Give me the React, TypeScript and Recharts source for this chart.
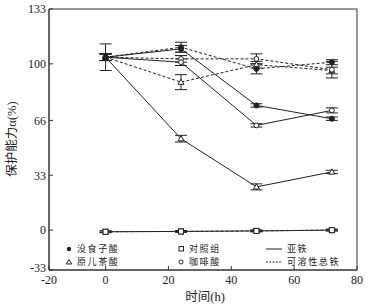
import React from 'react';
import { LineChart, Line, XAxis, YAxis, ErrorBar, ReferenceArea } from 'recharts';

// ---- data ----
const times = [0, 24, 48, 72];

// 亚铁 (solid)
const gallicFe2 = [104, 109, 75, 67];
const gallicFe2Err = [2, 2, 1, 1];
const protoFe2 = [104, 55, 26, 35];
const protoFe2Err = [2, 2, 1.8, 1];
const controlFe2 = [-1, -0.8, -0.5, 0];
const controlFe2Err = [0.5, 0.5, 0.5, 0.5];
const caffeicFe2 = [104, 101, 63, 72];
const caffeicFe2Err = [2, 2, 1, 1.5];

// 可溶性总铁 (dashed)
const gallicTot = [104, 110, 97, 101];
const gallicTotErr = [8, 3, 3, 1.5];
const protoTot = [104, 89, 99.5, 96];
const protoTotErr = [2, 4.5, 2, 2];
const caffeicTot = [104, 103, 103, 96.5];
const caffeicTotErr = [2, 2, 3, 5];
const controlTot = [-1, -0.8, -0.5, 0];
const controlTotErr = [0.5, 0.5, 0.5, 0.5];

const xTickValues = [-18, 0, 20, 40, 60, 80];
const xTickLabels = ['-20', '0', '20', '40', '60', '80'];
const yTickValues = [-24, 0, 33, 66, 100, 133];
const yTickLabels = ['-33', '0', '33', '66', '100', '133'];

const rows = times.map((t, i) => ({
  t,
  gallicFe2: gallicFe2[i], gallicFe2Err: gallicFe2Err[i],
  protoFe2: protoFe2[i], protoFe2Err: protoFe2Err[i],
  controlFe2: controlFe2[i], controlFe2Err: controlFe2Err[i],
  caffeicFe2: caffeicFe2[i], caffeicFe2Err: caffeicFe2Err[i],
  gallicTot: gallicTot[i], gallicTotErr: gallicTotErr[i],
  protoTot: protoTot[i], protoTotErr: protoTotErr[i],
  caffeicTot: caffeicTot[i], caffeicTotErr: caffeicTotErr[i],
  controlTot: controlTot[i], controlTotErr: controlTotErr[i],
}));

const INK = '#222';
const SERIF = '"Liberation Serif", "DejaVu Serif", serif';
const CJK = '"Noto Sans CJK SC", sans-serif';

const FilledCircle = (p: any) =>
  p.cx == null ? <g key={p.key} /> : <circle key={p.key} cx={p.cx} cy={p.cy} r={2.6} fill={INK} stroke={INK} strokeWidth={0.8} />;
const OpenCircle = (p: any) =>
  p.cx == null ? <g key={p.key} /> : <circle key={p.key} cx={p.cx} cy={p.cy} r={2.4} fill="#fff" stroke={INK} strokeWidth={1} />;
const OpenTriangle = (p: any) =>
  p.cx == null ? <g key={p.key} /> : (
    <polygon key={p.key} points={`${p.cx},${p.cy - 3} ${p.cx - 3},${p.cy + 2.2} ${p.cx + 3},${p.cy + 2.2}`} fill="#fff" stroke={INK} strokeWidth={1} />
  );
const OpenSquare = (p: any) =>
  p.cx == null ? <g key={p.key} /> : (
    <rect key={p.key} x={p.cx - 2.5} y={p.cy - 2.5} width={5} height={5} fill="#fff" stroke={INK} strokeWidth={1} />
  );

const fmtX = (v: number) => xTickLabels[xTickValues.indexOf(v)] ?? String(v);
const fmtY = (v: number) => yTickLabels[yTickValues.indexOf(v)] ?? String(v);

const YTick = (p: any) => {
  const v = p.payload?.value;
  const shift = v === yTickValues[0] ? -2 : 0;
  return (
    <text x={p.x} y={p.y + shift} dy="0.355em" textAnchor="end" fontSize={12} fontFamily={SERIF} fill={INK}>
      {fmtY(v)}
    </text>
  );
};

const seriesDefs = [
  { key: 'protoTot', dot: OpenTriangle, dash: '3 2' },
  { key: 'caffeicTot', dot: OpenCircle, dash: '3 2' },
  { key: 'gallicTot', dot: FilledCircle, dash: '3 2' },
  { key: 'controlTot', dot: OpenSquare, dash: '3 2' },
  { key: 'protoFe2', dot: OpenTriangle, dash: undefined },
  { key: 'caffeicFe2', dot: OpenCircle, dash: undefined },
  { key: 'gallicFe2', dot: FilledCircle, dash: undefined },
  { key: 'controlFe2', dot: OpenSquare, dash: undefined },
];

export default function App() {
  return (
    <div style={{ position: 'fixed', left: 0, top: 0, width: 376, height: 308, background: '#fff' }}>
      <LineChart width={376} height={308} data={rows} margin={{ top: 9, right: 19, bottom: 0, left: 0 }}>
        <XAxis
          dataKey="t"
          type="number"
          domain={[-18, 80]}
          allowDataOverflow
          ticks={xTickValues}
          tickFormatter={fmtX}
          height={38}
          tickSize={-4}
          tickMargin={9}
          stroke="#333"
          tick={{ fill: INK, fontSize: 12, fontFamily: SERIF }}
          interval={0}
        />
        <YAxis
          type="number"
          domain={[-24, 133]}
          allowDataOverflow
          ticks={yTickValues}
          width={49}
          tickSize={-4}
          tickMargin={7}
          stroke="#333"
          tick={<YTick />}
          interval={0}
        />
        <ReferenceArea x1={-18} x2={80} y1={-24} y2={133} fill="none" stroke="#333" strokeWidth={1} ifOverflow="extendDomain" />
        {seriesDefs.map((s) => (
          <Line
            key={s.key}
            dataKey={s.key}
            type="linear"
            stroke={INK}
            strokeWidth={1}
            strokeDasharray={s.dash}
            dot={s.dot}
            activeDot={false}
            isAnimationActive={false}
          >
            <ErrorBar dataKey={`${s.key}Err`} width={6} stroke={INK} strokeWidth={1} direction="y" />
          </Line>
        ))}
      </LineChart>
      <svg width={376} height={308} style={{ position: 'absolute', left: 0, top: 0, pointerEvents: 'none' }}>
        {/* axis titles */}
        <text x={205} y={301} textAnchor="middle" fontSize={12.5} fill={INK}>
          <tspan fontFamily={CJK}>时间</tspan>
          <tspan fontFamily={SERIF}>(h)</tspan>
        </text>
        <text x={0} y={0} transform="translate(16,139) rotate(-90)" textAnchor="middle" fontSize={12.5} fill={INK}>
          <tspan fontFamily={CJK}>保护能力</tspan>
          <tspan fontFamily={SERIF}>α(%)</tspan>
        </text>
        {/* legend */}
        <g fontFamily={CJK} fontSize={9} fill={INK} letterSpacing={1.6}>
          <circle cx={69} cy={249} r={2.2} fill={INK} />
          <text x={77} y={252.2}>没食子酸</text>
          <polygon points="69,259.5 66.3,264 71.7,264" fill="#fff" stroke={INK} strokeWidth={1} />
          <text x={77} y={265.4}>原儿茶酸</text>
          <rect x={179} y={246.5} width={4.5} height={4.5} fill="#fff" stroke={INK} strokeWidth={1} />
          <text x={189} y={252.2}>对照组</text>
          <circle cx={181} cy={262} r={2} fill="#fff" stroke={INK} strokeWidth={1} />
          <text x={189} y={265.4}>咖啡酸</text>
          <line x1={266} y1={249} x2={282} y2={249} stroke={INK} strokeWidth={1} />
          <text x={287} y={252.2}>亚铁</text>
          <line x1={266} y1={262} x2={282} y2={262} stroke={INK} strokeWidth={1} strokeDasharray="2 1.3" />
          <text x={287} y={265.4}>可溶性总铁</text>
        </g>
      </svg>
    </div>
  );
}
